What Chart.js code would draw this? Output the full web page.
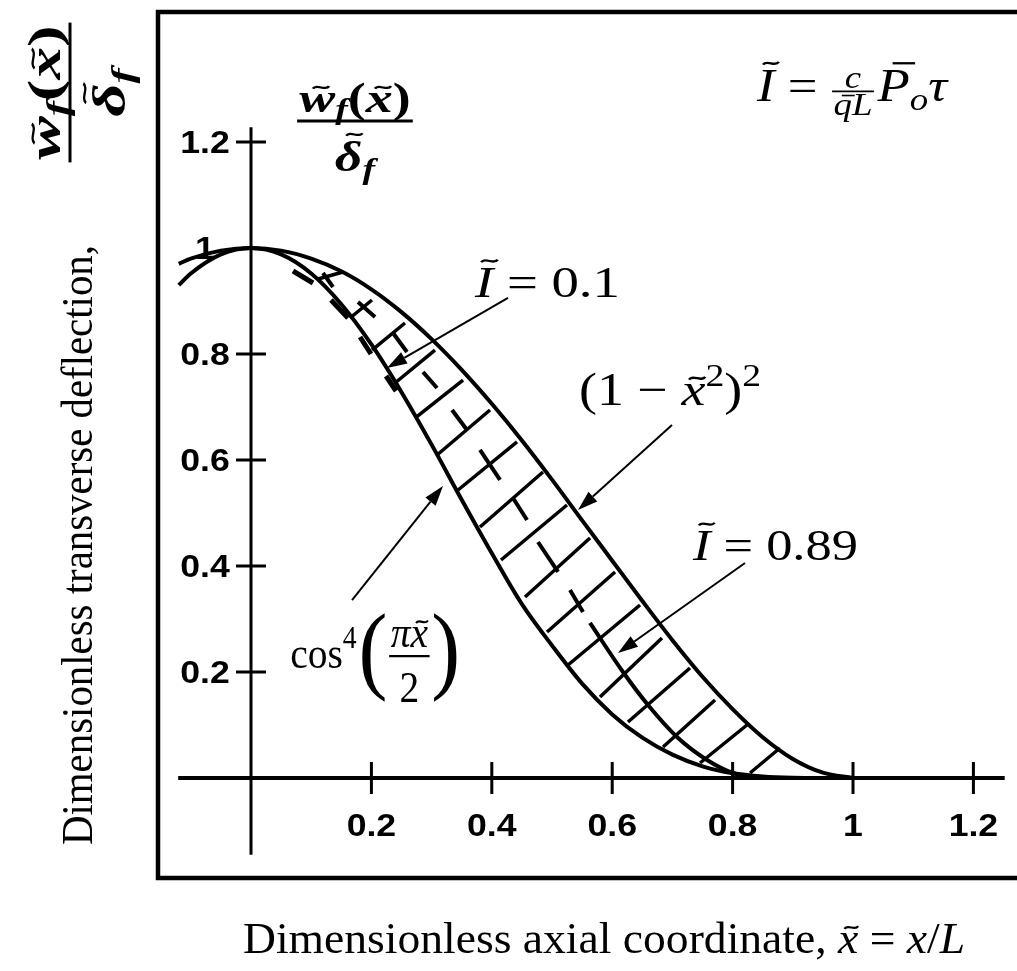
<!DOCTYPE html>
<html>
<head>
<meta charset="utf-8">
<script src="https://cdn.jsdelivr.net/npm/chart.js@4.4.1/dist/chart.umd.min.js"></script>
<style>
  html, body { margin: 0; padding: 0; background: #fff; }
  #wrap { position: relative; width: 1017px; height: 971px; }
</style>
</head>
<body>
<div id="wrap"><canvas id="c"></canvas></div>
<script>
// ---- axis ranges (data units) ----
const X_MIN = -0.1545, X_MAX = 1.2724;
const Y_MIN = -0.1887, Y_MAX = 1.4453;
const X_AXIS_FROM = -0.121, X_AXIS_TO = 1.252;
const Y_AXIS_FROM = -0.145, Y_AXIS_TO = 1.228;

// ---- ticks ----
const xTicks = [0.2, 0.4, 0.6, 0.8, 1, 1.2];
const xTickLabels = ['0.2', '0.4', '0.6', '0.8', '1', '1.2'];
const yTicks = [0.2, 0.4, 0.6, 0.8, 1, 1.2];
const yTickLabels = ['0.2', '0.4', '0.6', '0.8', '1', '1.2'];
const yTickMarks = [0.2, 0.4, 0.6, 0.8, 1.2];

// ---- bounding deflection shapes ----
const xs        = [-0.12, -0.1, -0.05, 0, 0.05, 0.1, 0.15, 0.2, 0.25, 0.3, 0.35, 0.4, 0.45, 0.5, 0.55, 0.6, 0.65, 0.7, 0.75, 0.8, 0.85, 0.9, 0.95, 1.0];
const polyShape = [0.97, 0.98, 0.995, 1, 0.995, 0.98, 0.956, 0.922, 0.879, 0.828, 0.770, 0.706, 0.637, 0.563, 0.486, 0.410, 0.334, 0.260, 0.191, 0.130, 0.077, 0.036, 0.010, 0];
const cosShape  = [0.93, 0.952, 0.988, 1, 0.988, 0.952, 0.894, 0.818, 0.728, 0.629, 0.525, 0.424, 0.328, 0.25, 0.178, 0.12, 0.076, 0.044, 0.022, 0.009, 0.003, 0.0005, 0, 0];

// ---- I = 0.89 shape: dashed upper part, solid lower part ----
const midDashX1 = [0.1196, 0.1777, 0.2359, 0.2857, 0.3339, 0.3804, 0.4352, 0.4767, 0.5299];
const midDashY1 = [0.9528, 0.8981, 0.8396, 0.7660, 0.6943, 0.6189, 0.5283, 0.4453, 0.3547];
const midDashX2 = [0.1362, 0.2060, 0.2591, 0.3090, 0.3588, 0.4136, 0.4585, 0.5100, 0.5515];
const midDashY2 = [0.9264, 0.8698, 0.8038, 0.7358, 0.6566, 0.5623, 0.4868, 0.3887, 0.3132];
const midX = [0.5631, 0.6179, 0.6595, 0.7076, 0.7575, 0.8007, 0.8455];
const midY = [0.2925, 0.2000, 0.1377, 0.0774, 0.0340, 0.0094, 0];

// ---- I = 0.1 shape (dashes hugging the cos^4 curve) ----
const lowDashX1 = [0.0698, 0.1329, 0.1811, 0.2243];
const lowDashY1 = [0.9566, 0.9019, 0.8321, 0.7585];
const lowDashX2 = [0.1030, 0.1611, 0.1993, 0.2409];
const lowDashY2 = [0.9340, 0.8679, 0.8000, 0.7302];

// ---- hatching between the two bounding shapes ----
const hatchX1 = [0.1113, 0.1645, 0.2010, 0.2392, 0.2724, 0.3090, 0.3439, 0.3804, 0.4153, 0.4551, 0.4917, 0.5266, 0.5797, 0.6262, 0.6844, 0.7458, 0.8289];
const hatchY1 = [0.9415, 0.8679, 0.8075, 0.7453, 0.6792, 0.6094, 0.5434, 0.4736, 0.4113, 0.3415, 0.2755, 0.2132, 0.1528, 0.1057, 0.0585, 0.0283, 0.0094];
const hatchX2 = [0.1528, 0.2010, 0.2558, 0.3056, 0.3522, 0.3970, 0.4419, 0.4850, 0.5249, 0.5631, 0.6047, 0.6462, 0.6827, 0.7292, 0.7708, 0.8239, 0.8787];
const hatchY2 = [0.9547, 0.9019, 0.8585, 0.8075, 0.7509, 0.6943, 0.6340, 0.5774, 0.5151, 0.4528, 0.3887, 0.3264, 0.2642, 0.2075, 0.1472, 0.1000, 0.0566];

// ---- pointer arrows (tail -> head) ----
const arrowTailX = [0.4269, 0.6993, 0.1678, 0.8206];
const arrowTailY = [0.9057, 0.6660, 0.3358, 0.4057];
const arrowHeadX = [0.2259, 0.5432, 0.3189, 0.6096];
const arrowHeadY = [0.7736, 0.5057, 0.5509, 0.2358];

// ---- datasets ----
const INK = '#000';
function lineSet(points, width, extra) {
  return Object.assign({
    data: points, borderColor: INK, borderWidth: width,
    pointRadius: 0, fill: false, tension: 0, borderCapStyle: 'butt'
  }, extra || {});
}
function segments(x1, y1, x2, y2, width) {
  return x1.map((v, i) => lineSet([{ x: v, y: y1[i] }, { x: x2[i], y: y2[i] }], width));
}

const datasets = [
  lineSet(xs.map((x, i) => ({ x, y: polyShape[i] })), 4, { cubicInterpolationMode: 'monotone' }),
  lineSet(xs.map((x, i) => ({ x, y: cosShape[i] })), 4, { cubicInterpolationMode: 'monotone' }),
  lineSet(midX.map((x, i) => ({ x, y: midY[i] })), 4, { cubicInterpolationMode: 'monotone' }),
  ...segments(midDashX1, midDashY1, midDashX2, midDashY2, 4),
  ...segments(lowDashX1, lowDashY1, lowDashX2, lowDashY2, 5),
  ...segments(hatchX1, hatchY1, hatchX2, hatchY2, 3.5)
];

// ---- math text helpers ----
const SERIF = '"Liberation Serif", "DejaVu Serif", serif';
const SANS = '"Liberation Sans", Arial, sans-serif';
function setFont(ctx, sz, it, b) {
  ctx.font = (it ? 'italic ' : '') + (b ? 'bold ' : '') + sz.toFixed(2) + 'px ' + SERIF;
}
function drawTilde(ctx, cx, cy, s) {
  const tw = 0.3 * s, a = 0.05 * s;
  ctx.beginPath();
  ctx.moveTo(cx - tw / 2, cy + a * 0.6);
  ctx.bezierCurveTo(cx - tw / 4, cy - a * 1.8, cx + tw / 4, cy + a * 1.8, cx + tw / 2, cy - a * 0.6);
  ctx.lineWidth = 0.05 * s;
  ctx.stroke();
}
function measure(ctx, items, size) {
  let w = 0;
  for (const p of items) {
    w += (p.k || 0) * size;
    const s = size * (p.s || 1);
    if (p.frac) {
      const wn = measure(ctx, p.frac.num, s), wd = measure(ctx, p.frac.den, s);
      p._w = Math.max(wn, wd) + 0.16 * s;
    } else {
      setFont(ctx, s, p.i, p.b);
      p._w = ctx.measureText(p.t).width;
    }
    w += p._w;
  }
  return w;
}
function drawItems(ctx, items, x, y, size) {
  measure(ctx, items, size);
  for (const p of items) {
    x += (p.k || 0) * size;
    const s = size * (p.s || 1);
    const by = y - (p.dy || 0) * size;
    if (p.frac) {
      const f = p.frac;
      const barY = by - (f.axis === undefined ? 0.27 : f.axis) * s;
      const wn = measure(ctx, f.num, s), wd = measure(ctx, f.den, s);
      const cx = x + p._w / 2;
      drawItems(ctx, f.num, cx - wn / 2, barY - (f.up === undefined ? 0.2 : f.up) * s, s);
      drawItems(ctx, f.den, cx - wd / 2, barY + (f.down === undefined ? 1.0 : f.down) * s, s);
      ctx.lineWidth = f.bw || Math.max(1.5, 0.05 * s);
      ctx.beginPath();
      ctx.moveTo(x + 0.04 * s, barY);
      ctx.lineTo(x + p._w - 0.04 * s, barY);
      ctx.stroke();
    } else {
      setFont(ctx, s, p.i, p.b);
      ctx.fillText(p.t, x, by);
      if (p.tilde) drawTilde(ctx, x + p._w / 2 + (p.i ? 0.12 * s * p.tilde : 0), by - p.tilde * s, s);
      if (p.bar) {
        const sk = p.i ? 0.2 * s * p.bar : 0;
        ctx.lineWidth = 0.05 * s;
        ctx.beginPath();
        ctx.moveTo(x + 0.2 * p._w + sk, by - p.bar * s);
        ctx.lineTo(x + 0.9 * p._w + sk, by - p.bar * s);
        ctx.stroke();
      }
    }
    x += p._w;
  }
}
function drawRich(ctx, items, x, y, size, width) {
  const w = measure(ctx, items, size);
  ctx.save();
  ctx.translate(x, y);
  ctx.scale(width ? width / w : 1, 1);
  drawItems(ctx, items, 0, 0, size);
  ctx.restore();
}

// ---- text content ----
const wfOverDelta = (b, axis) => ({
  frac: {
    num: [{ t: 'w', i: true, b, tilde: 0.58 }, { t: 'f', i: true, b, s: 0.7, dy: -0.18 }, { t: '(', b }, { t: 'x', i: true, b, tilde: 0.58 }, { t: ')', b }],
    den: [{ t: 'δ', i: true, b, tilde: 0.88 }, { t: 'f', i: true, b, s: 0.7, dy: -0.18 }],
    axis, up: 0.22, down: 1.2, bw: 3
  }
});
const yTitleText = [{ t: 'Dimensionless transverse deflection,' }];
const yTitleFrac = [wfOverDelta(true, 0)];
const xTitleItems = [{ t: 'Dimensionless axial coordinate, ' }, { t: 'x', i: true, tilde: 0.58 }, { t: ' = ' }, { t: 'x', i: true }, { t: '/' }, { t: 'L', i: true }];
const labelI01 = [{ t: 'I', i: true, tilde: 0.82 }, { t: ' = ' }, { t: '0.1' }];
const labelI089 = [{ t: 'I', i: true, tilde: 0.82 }, { t: ' = ' }, { t: '0.89' }];
const labelPoly = [{ t: '(1 − ' }, { t: 'x', i: true, tilde: 0.58 }, { t: '2', s: 0.7, dy: 0.42 }, { t: ')' }, { t: '2', s: 0.7, dy: 0.42 }];
const labelCos = [
  { t: 'cos' }, { t: '4', s: 0.7, dy: 0.45 },
  { t: '(', s: 2.2, dy: -0.3, k: 0.05 },
  { frac: { num: [{ t: 'π', i: true }, { t: 'x', i: true, tilde: 0.58 }], den: [{ t: '2' }], axis: 0.27, up: 0.2, down: 1.05 } },
  { t: ')', s: 2.2, dy: -0.3 }
];
const labelDef = [
  { t: 'I', i: true, tilde: 0.82 }, { t: ' = ' },
  { s: 0.7, frac: { num: [{ t: 'c', i: true }], den: [{ t: 'q', i: true, bar: 0.62 }, { t: 'L', i: true }], axis: 0.3, up: 0.1, down: 0.75 } },
  { t: 'P', i: true, bar: 0.82, k: 0.04 }, { t: 'o', i: true, s: 0.7, dy: -0.2 }, { t: 'τ', i: true }
];

// ---- drawing plugin: frame, crossing axes, ticks, annotations ----
const figurePlugin = {
  id: 'figure',
  beforeDatasetsDraw(chart) {
    const { ctx, chartArea: a, scales: { x, y } } = chart;
    ctx.save();
    ctx.strokeStyle = INK;
    ctx.lineWidth = 4.5;
    ctx.beginPath();
    ctx.moveTo(a.right + 20, a.top); ctx.lineTo(a.left, a.top);
    ctx.lineTo(a.left, a.bottom); ctx.lineTo(a.right + 20, a.bottom);
    ctx.stroke();

    const x0 = x.getPixelForValue(0), y0 = y.getPixelForValue(0);
    ctx.lineWidth = 4;
    ctx.beginPath();
    ctx.moveTo(x.getPixelForValue(X_AXIS_FROM), y0); ctx.lineTo(x.getPixelForValue(X_AXIS_TO), y0);
    ctx.stroke();
    ctx.lineWidth = 3;
    ctx.beginPath();
    ctx.moveTo(x0, y.getPixelForValue(Y_AXIS_FROM)); ctx.lineTo(x0, y.getPixelForValue(Y_AXIS_TO));
    ctx.stroke();

    ctx.lineWidth = 3;
    ctx.beginPath();
    xTicks.forEach(v => { const p = x.getPixelForValue(v); ctx.moveTo(p, y0 - 16); ctx.lineTo(p, y0 + 16); });
    yTickMarks.forEach(v => { const p = y.getPixelForValue(v); ctx.moveTo(x0 - 15, p); ctx.lineTo(x0 + 15, p); });
    ctx.stroke();

    // tick labels
    ctx.fillStyle = INK;
    ctx.textBaseline = 'middle';
    ctx.textAlign = 'center';
    ctx.font = 'bold 31px ' + SANS;
    xTicks.forEach((v, i) => {
      ctx.save();
      ctx.translate(x.getPixelForValue(v), y0 + 49);
      ctx.scale(1.15, 1);
      ctx.fillText(xTickLabels[i], 0, 0);
      ctx.restore();
    });
    yTicks.forEach((v, i) => {
      ctx.save();
      ctx.translate(x0 - 46, y.getPixelForValue(v) + 2);
      ctx.scale(1.15, 1);
      ctx.fillText(yTickLabels[i], 0, 0);
      ctx.restore();
    });
    ctx.restore();
  },
  afterDatasetsDraw(chart) {
    const { ctx, scales: { x, y } } = chart;
    const px = v => x.getPixelForValue(v), py = v => y.getPixelForValue(v);
    ctx.save();
    ctx.strokeStyle = INK;
    ctx.fillStyle = INK;

    // arrows
    arrowTailX.forEach((tx, i) => {
      const x1 = px(tx), y1 = py(arrowTailY[i]), x2 = px(arrowHeadX[i]), y2 = py(arrowHeadY[i]);
      const ang = Math.atan2(y2 - y1, x2 - x1), L = 20, H = 6.5;
      const bx = x2 - L * Math.cos(ang), by = y2 - L * Math.sin(ang);
      ctx.lineWidth = 2;
      ctx.beginPath(); ctx.moveTo(x1, y1); ctx.lineTo(bx, by); ctx.stroke();
      ctx.beginPath();
      ctx.moveTo(x2, y2);
      ctx.lineTo(bx + H * Math.sin(ang), by - H * Math.cos(ang));
      ctx.lineTo(bx - H * Math.sin(ang), by + H * Math.cos(ang));
      ctx.closePath(); ctx.fill();
    });

    ctx.textAlign = 'left';
    ctx.textBaseline = 'alphabetic';
    drawRich(ctx, labelI01, px(0.372), py(0.9075), 44, 145);
    drawRich(ctx, labelI089, px(0.734), py(0.411), 44, 165);
    drawRich(ctx, labelPoly, px(0.545), py(0.704), 46, 182);
    drawRich(ctx, labelCos, px(0.065), py(0.2075), 44, 170);
    drawRich(ctx, labelDef, px(0.8405), py(1.2774), 46, 190);
    drawRich(ctx, [wfOverDelta(true, 0)], px(0.073), py(1.2396), 42, 120);

    // axis titles
    drawRich(ctx, xTitleItems, 243, 953, 44, 722);
    ctx.save();
    ctx.translate(92, 845);
    ctx.rotate(-Math.PI / 2);
    drawRich(ctx, yTitleText, 0, 0, 44, 600);
    drawRich(ctx, yTitleFrac, 680, -22, 46, 145);
    ctx.restore();
    ctx.restore();
  }
};

new Chart(document.getElementById('c'), {
  type: 'line',
  data: { datasets },
  options: {
    responsive: true,
    maintainAspectRatio: false,
    animation: false,
    events: [],
    layout: { padding: { left: 158, top: 12, right: 0, bottom: 93 } },
    plugins: { legend: { display: false }, tooltip: { enabled: false } },
    scales: {
      x: { type: 'linear', min: X_MIN, max: X_MAX, display: false },
      y: { type: 'linear', min: Y_MIN, max: Y_MAX, display: false }
    }
  },
  plugins: [figurePlugin]
});
</script>
</body>
</html>
